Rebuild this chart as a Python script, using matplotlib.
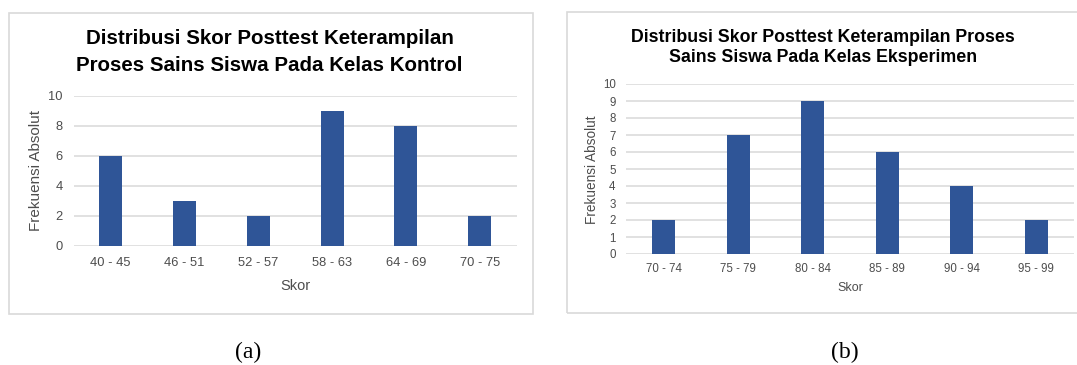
import matplotlib
matplotlib.use("Agg")
import matplotlib.pyplot as plt
from matplotlib.patches import Rectangle

plt.rcParams["font.family"] = ["Liberation Sans", "DejaVu Sans"]

# data
kontrol_kelas = ["40 - 45", "46 - 51", "52 - 57", "58 - 63", "64 - 69", "70 - 75"]
kontrol_frek = [6, 3, 2, 9, 8, 2]
kontrol_yticks = [0, 2, 4, 6, 8, 10]

eksperimen_kelas = ["70 - 74", "75 - 79", "80 - 84", "85 - 89", "90 - 94", "95 - 99"]
eksperimen_frek = [2, 7, 9, 6, 4, 2]
eksperimen_yticks = list(range(0, 11))

W, H = 1077, 365
BAR = "#2f5597"
GRID = "#d9d9d9"
TXT = "#4d4d4d"

fig = plt.figure(figsize=(W / 100, H / 100), dpi=100)


def px_box(x0, y0, x1, y1):
    # pixel box (top-left origin) -> figure fraction
    return [x0 / W, 1 - y1 / H, (x1 - x0) / W, (y1 - y0) / H]


def frame(x0, y0, x1, y1):
    r = Rectangle((x0 / W, 1 - y1 / H), (x1 - x0) / W, (y1 - y0) / H,
                  transform=fig.transFigure, fill=False, edgecolor=GRID, lw=1.2)
    fig.patches.append(r)


def bar_panel(rect, labels, values, yticks, fs, xpad):
    ax = fig.add_axes(px_box(*rect))
    x = range(len(labels))
    ax.bar(x, values, width=0.31, color=BAR, zorder=3)
    ax.set_xlim(-0.5, len(labels) - 0.5)
    ax.set_ylim(0, 10)
    ax.set_yticks(yticks)
    ax.set_xticks(list(x))
    ax.set_xticklabels(labels)
    ax.yaxis.grid(True, color=GRID, lw=1.1, zorder=0)
    for s in ax.spines.values():
        s.set_visible(False)
    ax.tick_params(axis="y", length=0, pad=7.8, labelsize=fs, labelcolor=TXT)
    ax.tick_params(axis="x", length=0, pad=xpad, labelsize=fs, labelcolor=TXT)
    return ax


def ftext(x, y, s, **kw):
    fig.text(x / W, 1 - y / H, s, **kw)


# panel (a)
frame(9, 13, 533, 314)
bar_panel((73.8, 95.7, 516.6, 245.7), kontrol_kelas, kontrol_frek, kontrol_yticks, 9.3, 8)
ftext(269.5, 44, "Distribusi Skor Posttest Keterampilan", ha="center", va="baseline",
      fontsize=14.8, fontweight="bold", color="black")
ftext(269.5, 71, "Proses Sains Siswa Pada Kelas Kontrol", ha="center", va="baseline",
      fontsize=14.8, fontweight="bold", color="black")
ftext(36, 170.5, "Frekuensi Absolut", ha="center", va="center", rotation=90,
      fontsize=11, color=TXT)
ftext(295, 286, "Skor", ha="center", va="center", fontsize=10.5, color=TXT)

# panel (b)
frame(567, 12, 1085, 313)
bar_panel((626.4, 84, 1073.6, 254), eksperimen_kelas, eksperimen_frek, eksperimen_yticks, 8.3, 6.5)
ftext(823, 42, "Distribusi Skor Posttest Keterampilan Proses", ha="center", va="baseline",
      fontsize=12.8, fontweight="bold", color="black")
ftext(823, 62, "Sains Siswa Pada Kelas Eksperimen", ha="center", va="baseline",
      fontsize=12.8, fontweight="bold", color="black")
ftext(592, 169.5, "Frekuensi Absolut", ha="center", va="center", rotation=90,
      fontsize=9.8, color=TXT)
ftext(850, 288, "Skor", ha="center", va="center", fontsize=9, color=TXT)

# captions
ftext(248, 352, "(a)", ha="center", va="center", fontsize=17,
      family=["Liberation Serif", "DejaVu Serif"], color="black")
ftext(845, 352, "(b)", ha="center", va="center", fontsize=17,
      family=["Liberation Serif", "DejaVu Serif"], color="black")

fig.savefig("out.png", dpi=100)
